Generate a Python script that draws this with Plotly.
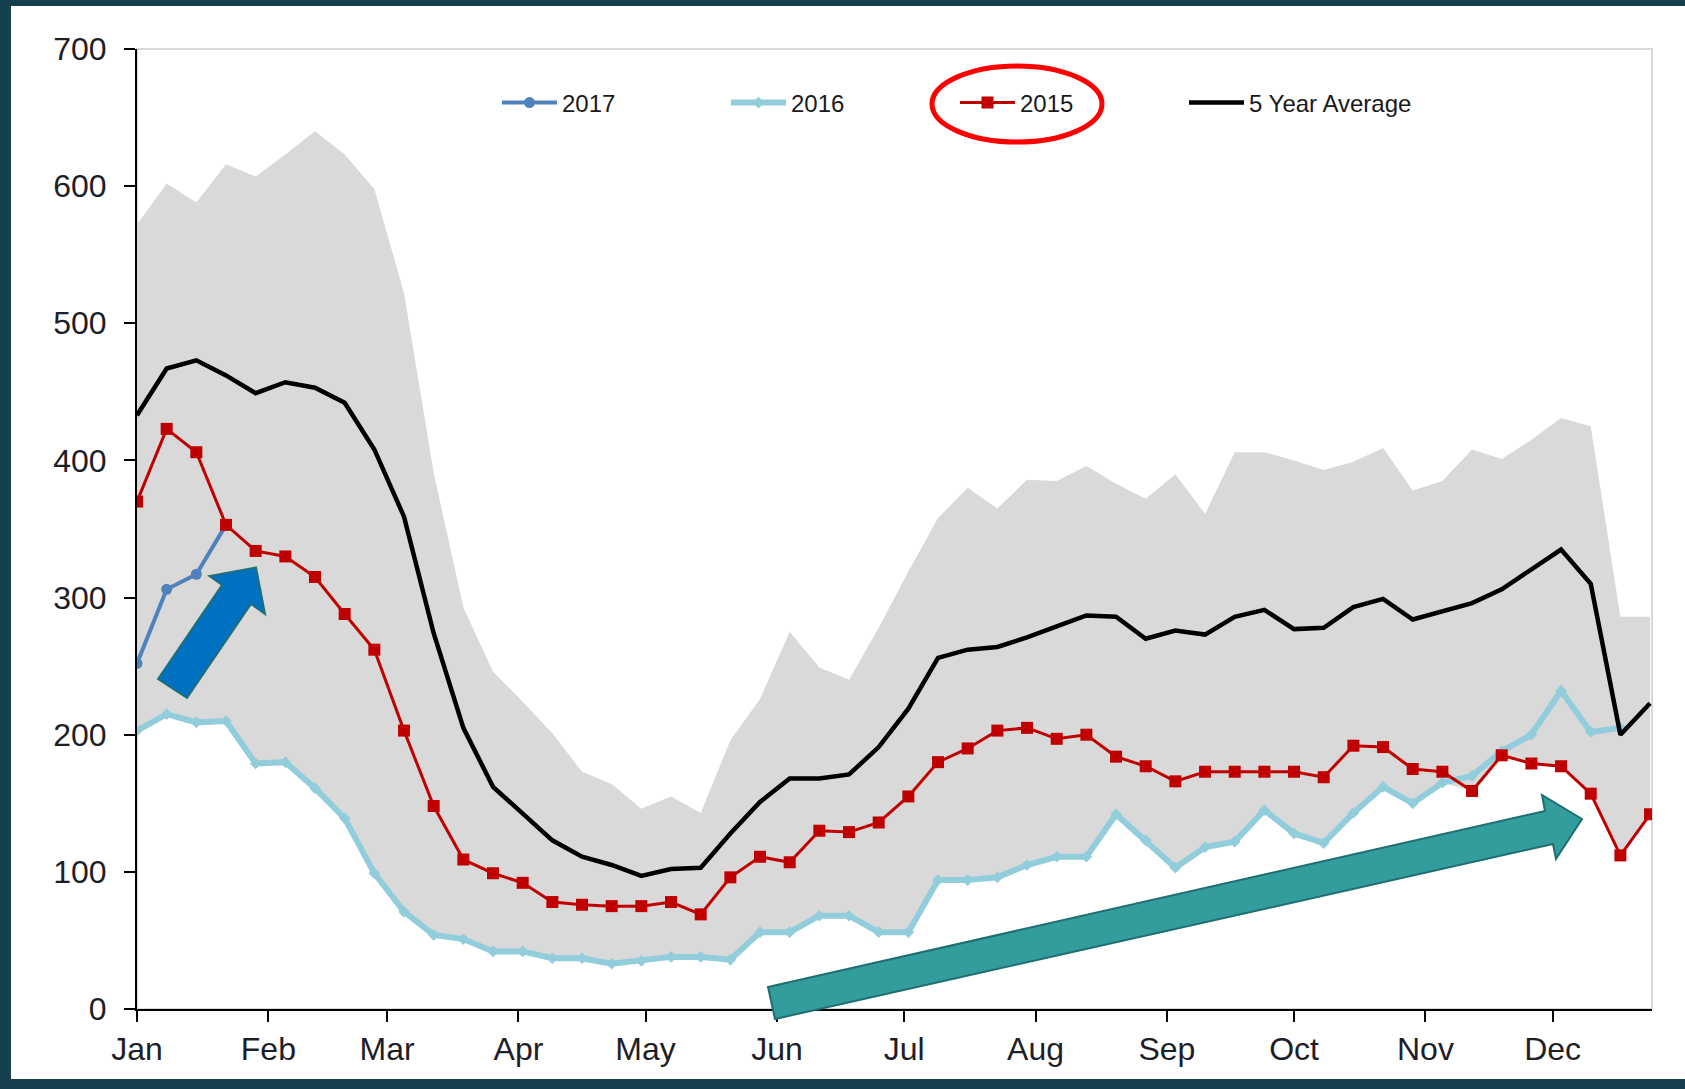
import plotly.graph_objects as go
import pandas as pd

# ---------------- data ----------------
week_dates = pd.date_range("2015-01-01", periods=52, freq="7D")

avg_5yr = [433, 467, 473, 462, 449, 457, 453, 442, 408, 359, 274, 205, 162, 143, 123, 111,
           105, 97, 102, 103, 128, 151, 168, 168, 171, 191, 219, 256, 262, 264, 271, 279,
           287, 286, 270, 276, 273, 286, 291, 277, 278, 293, 299, 284, 290, 296, 306, 321,
           335, 310, 200, 223]

y2015 = [370, 423, 406, 353, 334, 330, 315, 288, 262, 203, 148, 109, 99, 92, 78, 76,
         75, 75, 78, 69, 96, 111, 107, 130, 129, 136, 155, 180, 190, 203, 205, 197,
         200, 184, 177, 166, 173, 173, 173, 173, 169, 192, 191, 175, 173, 159, 185, 179,
         177, 157, 112, 142]

y2016 = [203, 215, 209, 210, 179, 180, 161, 139, 99, 71, 54, 51, 42, 42, 37, 37,
         33, 35, 38, 38, 36, 56, 56, 68, 68, 56, 56, 94, 94, 96, 105, 111,
         111, 142, 123, 103, 118, 122, 145, 128, 121, 143, 162, 150, 165, 170, 188, 200,
         232, 202, 205, None]

y2017 = [252, 306, 317, 353]

band_max = [572, 602, 588, 616, 607, 623, 640, 623, 598, 522, 391, 293, 246, 224, 201, 173,
            164, 146, 155, 143, 196, 226, 275, 249, 240, 278, 319, 358, 380, 365, 386, 385,
            396, 383, 372, 390, 361, 406, 406, 400, 393, 399, 409, 378, 385, 408, 401, 415,
            431, 425, 286, 286]

band_min = [203, 215, 209, 210, 179, 180, 161, 139, 99, 71, 54, 51, 42, 42, 37, 37,
            33, 35, 38, 38, 36, 56, 56, 68, 68, 56, 56, 94, 94, 96, 105, 111,
            111, 142, 123, 103, 118, 122, 145, 128, 121, 143, 162, 150, 165, 159, 185, 179,
            177, 157, 112, 142]

month_ticks = ["2015-01-01", "2015-02-01", "2015-03-01", "2015-04-01", "2015-05-01", "2015-06-01",
               "2015-07-01", "2015-08-01", "2015-09-01", "2015-10-01", "2015-11-01", "2015-12-01"]
month_labels = ["Jan", "Feb", "Mar", "Apr", "May", "Jun", "Jul", "Aug", "Sep", "Oct", "Nov", "Dec"]
y_ticks = [0, 100, 200, 300, 400, 500, 600, 700]

# ---------------- geometry helpers ----------------
W, H = 1685, 1089
L, R, T, B = 137, 33, 49, 80
PW = W - L - R
PH = H - T - B


def px(x):
    return (x - L) / PW


def py(y):
    return (H - B - y) / PH


def poly(points):
    return "M " + " L ".join(f"{px(a):.5f},{py(b):.5f}" for a, b in points) + " Z"


TICK_FONT = dict(family="Liberation Sans Narrow, Arial Narrow, Liberation Sans, Arial", size=32, color="#1e1e28")
LEG_FONT = dict(family="Liberation Sans, Arial, sans-serif", size=24, color="#1a1a1a")

fig = go.Figure()

# 5-year range band
fig.add_trace(go.Scatter(x=week_dates, y=band_min, mode="lines", line=dict(width=0),
                         showlegend=False, hoverinfo="skip"))
fig.add_trace(go.Scatter(x=week_dates, y=band_max, mode="lines", line=dict(width=0),
                         fill="tonexty", fillcolor="#D9D9D9", showlegend=False, hoverinfo="skip"))

fig.add_trace(go.Scatter(x=week_dates, y=y2016, name="2016", mode="lines+markers",
                         line=dict(color="#92CDDC", width=6),
                         marker=dict(symbol="diamond", size=9, color="#92CDDC"),
                         legendrank=2))
fig.add_trace(go.Scatter(x=week_dates[:len(y2017)], y=y2017, name="2017", mode="lines+markers",
                         line=dict(color="#4F81BD", width=4),
                         marker=dict(symbol="circle", size=11, color="#4F81BD"),
                         legendrank=1))
fig.add_trace(go.Scatter(x=week_dates, y=y2015, name="2015", mode="lines+markers",
                         line=dict(color="#C00000", width=3),
                         marker=dict(symbol="square", size=12, color="#C00000"),
                         legendrank=3))
fig.add_trace(go.Scatter(x=week_dates, y=avg_5yr, name="5 Year Average", mode="lines",
                         line=dict(color="#000000", width=4.5),
                         legendrank=4))

shapes = [
    # white panel on dark background
    dict(type="rect", xref="paper", yref="paper", x0=px(11), x1=px(1700), y0=py(1079), y1=py(6),
         fillcolor="white", line=dict(width=0), layer="below"),
    # light plot-area border
    dict(type="rect", xref="paper", yref="paper", x0=0, x1=1, y0=0, y1=1,
         line=dict(color="#D9D9D9", width=2), layer="below"),
    # blue arrow
    dict(type="path", xref="paper", yref="paper",
         path=poly([(158, 679), (222, 585), (209.5, 576), (256, 567.5), (265, 614),
                    (251, 604), (187, 698)]),
         fillcolor="#0070C0", line=dict(color="#1F6E78", width=2), layer="above"),
    # teal arrow
    dict(type="path", xref="paper", yref="paper",
         path=poly([(768, 987), (1545, 811), (1542, 795), (1582, 819), (1556, 859),
                    (1553, 844), (775, 1019)]),
         fillcolor="#339C9D", line=dict(color="#1F6F70", width=2), layer="above"),
    # red ellipse around 2015 legend entry
    dict(type="circle", xref="paper", yref="paper", x0=px(932), x1=px(1102), y0=py(142), y1=py(66),
         line=dict(color="#FF0000", width=5), fillcolor="rgba(0,0,0,0)", layer="above"),
]

fig.update_layout(
    width=W, height=H,
    margin=dict(l=L, r=R, t=T, b=B, pad=0),
    paper_bgcolor="#17404F",
    plot_bgcolor="rgba(0,0,0,0)",
    shapes=shapes,
    showlegend=True,
    legend=dict(orientation="h", x=px(497), y=py(103), xanchor="left", yanchor="middle",
                traceorder="normal",
                font=LEG_FONT, bgcolor="rgba(0,0,0,0)", borderwidth=0,
                itemwidth=55, entrywidth=159, entrywidthmode="pixels", tracegroupgap=0),
    xaxis=dict(type="date", range=["2015-01-01", "2015-12-24 11:00"],
               tickvals=month_ticks, ticktext=month_labels,
               ticks="outside", ticklen=11, tickwidth=2, tickcolor="#000000",
               showline=True, linecolor="#000000", linewidth=2,
               showgrid=False, zeroline=False, tickfont=TICK_FONT,
               ticklabelstandoff=0),
    yaxis=dict(range=[0, 700], tickvals=y_ticks,
               ticks="outside", ticklen=11, tickwidth=2, tickcolor="#000000",
               showline=True, linecolor="#000000", linewidth=2,
               showgrid=False, zeroline=False, tickfont=TICK_FONT,
               ticklabelstandoff=11),
    hovermode=False,
)

fig.write_html("out.html",
               config={"displayModeBar": False},
               post_script="document.body.style.margin='0';document.body.style.background='#17404F';")
